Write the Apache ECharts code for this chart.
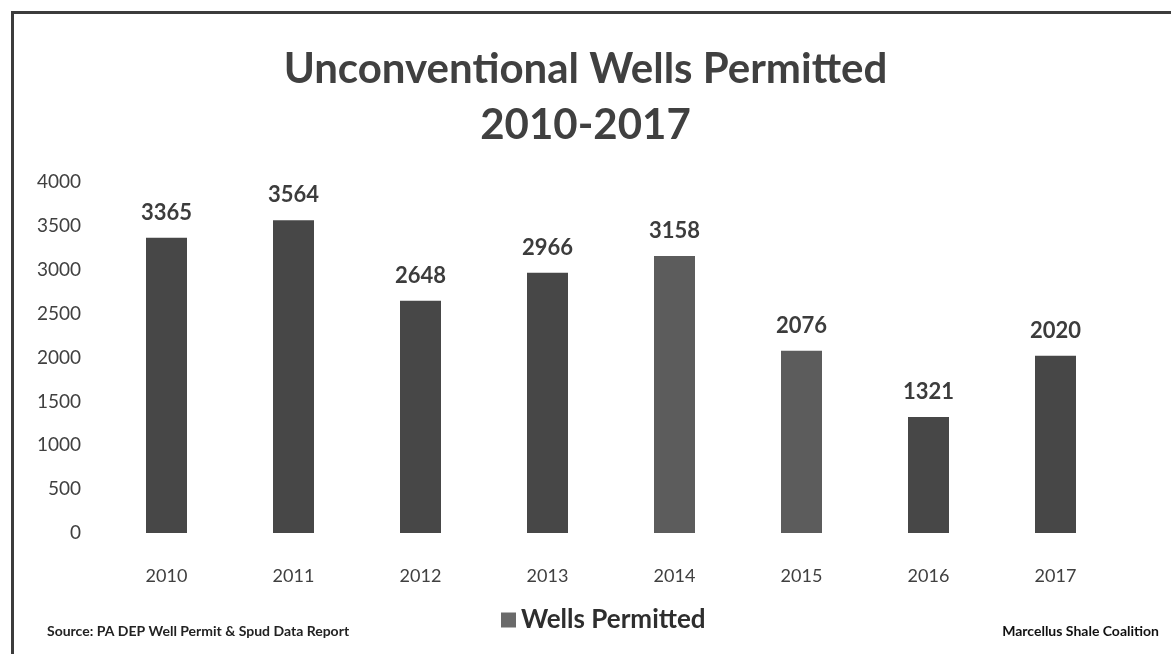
<!DOCTYPE html>
<html>
<head>
<meta charset="utf-8">
<script src="https://cdn.jsdelivr.net/npm/echarts@6/dist/echarts.min.js"></script>
<style>
  html, body { margin: 0; padding: 0; background: #fff; }
  #frame { position: absolute; left: 11px; top: 11px; width: 1160px; height: 643px;
           border-left: 3px solid #3c3c3c; border-top: 3px solid #3c3c3c; }
  #chart { position: absolute; left: 0; top: 0; width: 1171px; height: 654px; }
</style>
</head>
<body>
<div id="frame"></div>
<div id="chart"></div>
<script>
const years = ['2010', '2011', '2012', '2013', '2014', '2015', '2016', '2017']
const permitted = [3365, 3564, 2648, 2966, 3158, 2076, 1321, 2020]
const yTicks = [0, 4000, 500]

const dark = '#474747'
const light = '#5c5c5c'
const font = 'Lato'

const chart = echarts.init(document.getElementById('chart'))
chart.setOption({
  animation: false,
  textStyle: { fontFamily: font },
  title: {
    text: 'Unconventional Wells Permitted\n2010-2017',
    left: 'center',
    top: 36,
    textStyle: { fontSize: 42, fontWeight: 'bold', color: '#404040', lineHeight: 56, fontFamily: font }
  },
  legend: {
    data: ['Wells Permitted'],
    top: 602,
    left: 496,
    itemWidth: 15,
    itemHeight: 15,
    itemGap: 10,
    icon: 'rect',
    textStyle: { fontSize: 26, fontWeight: 'bold', color: '#2e2e2e', fontFamily: font },
    itemStyle: { color: '#6a6a6a' }
  },
  grid: { left: 103, right: 52, top: 182, bottom: 121 },
  xAxis: {
    type: 'category',
    data: years,
    axisLine: { show: false },
    axisTick: { show: false },
    axisLabel: { margin: 34, fontSize: 18, color: '#404040' }
  },
  yAxis: {
    type: 'value',
    min: yTicks[0],
    max: yTicks[1],
    interval: yTicks[2],
    splitLine: { show: false },
    axisLabel: { margin: 22, fontSize: 19, color: '#404040', formatter: v => String(v) }
  },
  series: [
    {
      name: 'Wells Permitted',
      type: 'bar',
      barWidth: 41,
      data: permitted.map((v, i) => ({
        value: v,
        itemStyle: { color: (years[i] === '2014' || years[i] === '2015') ? light : dark }
      })),
      label: {
        show: true,
        position: 'top',
        distance: 14,
        fontSize: 22,
        fontWeight: 'bold',
        color: '#3c3c3c'
      }
    }
  ],
  graphic: [
    {
      type: 'text',
      left: 47,
      top: 624,
      style: { text: 'Source: PA DEP Well Permit & Spud Data Report', fontSize: 14, fontWeight: 'bold', fontFamily: font, fill: '#222' }
    },
    {
      type: 'text',
      right: 12,
      top: 624,
      style: { text: 'Marcellus Shale Coalition', fontSize: 14, fontWeight: 'bold', fontFamily: font, fill: '#111' }
    }
  ]
})
</script>
</body>
</html>
